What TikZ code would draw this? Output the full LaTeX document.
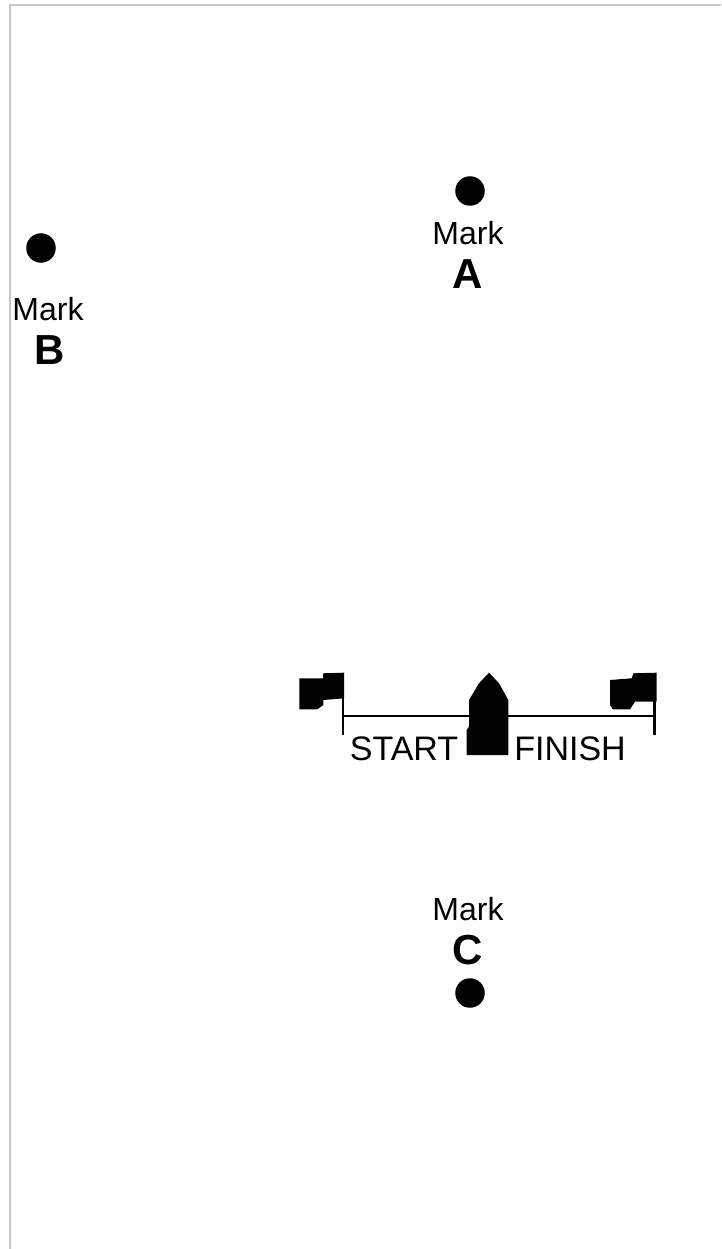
\documentclass[tikz,border=0pt]{standalone}
\usepackage{fontspec}
\setmainfont{Liberation Sans}
\usetikzlibrary{positioning}
\tikzset{
  dot/.style    ={circle,fill=black,inner sep=0pt,minimum size=29.5pt},
  marklbl/.style={inner sep=0pt,font=\fontsize{32}{32}\selectfont},
  markid/.style ={inner sep=0pt,font=\fontsize{42}{42}\selectfont\bfseries},
  linelbl/.style={inner sep=0pt,font=\fontsize{34}{34}\selectfont},
  shp/.style    ={fill=black,draw=none},
  frame/.style  ={draw=black!22,line width=1.5pt},
  pole/.style   ={draw=black,line width=2.4pt},
}
\begin{document}
\begin{tikzpicture}[x=1pt,y=-1pt]
  \useasboundingbox (0,0) rectangle (721,1249);
  \coordinate (fa) at (10,1249);
  \coordinate (fb) at (10,5);
  \coordinate (fc) at (721,5);
  \draw[frame] (fa) -- (fb) -- (fc);
  % marks
  \node[dot] (dota) at (470,191) {};
  \node[marklbl] (mlbla) at (468,233) {Mark};
  \node[markid,below=14pt of mlbla] (ida) {A};
  \node[dot] (dotb) at (41,248) {};
  \node[marklbl] (mlblb) at (48,309) {Mark};
  \node[markid,below=14pt of mlblb,xshift=1.5pt] (idb) {B};
  \node[marklbl] (mlblc) at (468,909) {Mark};
  \node[markid,below=14pt of mlblc] (idc) {C};
  \node[dot] (dotc) at (470,993) {};
  % line
  \coordinate (ltop) at (343,698);
  \coordinate (lbot) at (343,735);
  \coordinate (rtop) at (654.5,690);
  \coordinate (rbot) at (654.5,735);
  \coordinate (lmid) at (343,716);
  \coordinate (rmid) at (654,716);
  \draw[pole] (ltop) -- (lbot);
  \draw[pole,line width=3.2pt] (rtop) -- (rbot);
  \draw[pole] (lmid) -- (rmid);
  \fill[shp] (299.3,678.3) -- (323,678.3) -- (323,673.3) -- (344,672.7) -- (344,698.3)
    -- (323.3,700) -- (323.3,705) -- (317.3,709.3) -- (299.3,709.3) -- cycle;
  \fill[shp] (610,680) -- (631.7,678.3) -- (633.3,673.3) -- (656.7,672.7) -- (656.7,701.7)
    -- (635,701.7) -- (630,709.3) -- (612.7,709.3) -- (610,705) -- cycle;
  \fill[shp] (489,672.7) -- (479,683.3) -- (469,700) -- (469,726.7) -- (466.7,730)
    -- (466.7,755) -- (508.3,755) -- (508.3,700) -- (499,683.3) -- cycle;
  \node[linelbl] (start) at (404,749) {START};
  \node[linelbl] (finish) at (570,749) {FINISH};
\end{tikzpicture}
\end{document}
